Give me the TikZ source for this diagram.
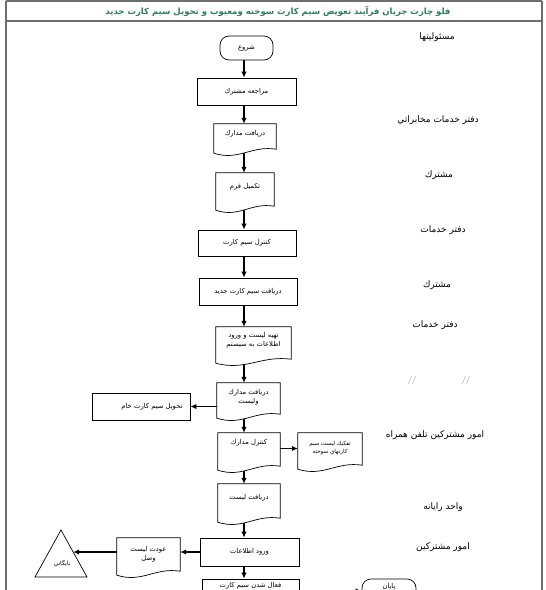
\documentclass[tikz,border=0pt]{standalone}
\usepackage{fontspec}
\TeXXeTstate=1
\newfontfamily\arabicfont[Script=Arabic]{DejaVu Sans}
\usetikzlibrary{arrows.meta,calc}
\pgfdeclarelayer{bg}
\pgfsetlayers{bg,main}
\newcommand\artxt[1]{\beginR #1\endR}
\definecolor{titlegreen}{HTML}{2E7D5A}
\definecolor{framegray}{HTML}{6E6E6E}
\tikzset{
  shapetxt/.style={font=\arabicfont\fontsize{6.8}{9}\selectfont, align=center, inner sep=0pt},
  procbox/.style={shapetxt, draw=black, fill=white, line width=0.7pt, rectangle},
  docbox/.style={shapetxt, rectangle},
  termbox/.style={shapetxt, draw=black, fill=white, line width=0.7pt, rectangle, rounded corners=9pt},
  lanelbl/.style={font=\arabicfont\fontsize{9}{11}\selectfont, inner sep=0pt},
  conn/.style={draw=black, line width=1.3pt, -{Latex[length=6pt,width=5.5pt]}},
  docline/.style={draw=black, fill=white, line width=0.7pt},
}
\newcommand\docout[1]{%
  \path[docline] (#1.north west) -- (#1.north east) -- ($(#1.south east)+(0,6)$)
    .. controls ($(#1.south west)!0.6!(#1.south east)+(0,2)$) and ($(#1.south west)!0.4!(#1.south east)+(0,18)$)
    .. ($(#1.south west)+(0,10)$) -- cycle;}
\begin{document}
\begin{tikzpicture}[x=1pt,y=-1pt]
\useasboundingbox (0,0) rectangle (546,590);
\clip (0,0) rectangle (546,590);
\coordinate (spine) at (244,0);
% frame
\draw[framegray, line width=1.4pt] (6,1) -- (542,1) (6,1) -- (6,600) (542,1) -- (542,600);
\draw[framegray, line width=1.2pt] (6,21) -- (542,21);
\node[font=\arabicfont\bfseries\fontsize{8.5}{10}\selectfont, text=titlegreen, inner sep=0pt] (title) at (278,11)
  {\artxt{فلو چارت جريان فرآيند تعويض سيم كارت سوخته ومعيوب و تحويل سيم كارت جديد}};

% lane labels
\node[lanelbl] (l0) at (437,37) {\artxt{مسئوليتها}};
\node[lanelbl] (l1) at (438,120) {\artxt{دفتر خدمات مخابراتي}};
\node[lanelbl] (l2) at (439,175) {\artxt{مشترك}};
\node[lanelbl] (l3) at (443,230) {\artxt{دفتر خدمات}};
\node[lanelbl] (l4) at (437,285) {\artxt{مشترك}};
\node[lanelbl] (l5) at (435,325) {\artxt{دفتر خدمات}};
\node[font=\sffamily\fontsize{8}{9}\selectfont, text=gray, inner sep=0pt] (l6a) at (412,380) {//};
\node[font=\sffamily\fontsize{8}{9}\selectfont, text=gray, inner sep=0pt] (l6b) at (466,380) {//};
\node[lanelbl] (l7) at (435,435) {\artxt{امور مشتركين تلفن همراه}};
\node[lanelbl] (l8) at (443,507) {\artxt{واحد رايانه}};
\node[lanelbl] (l9) at (443,547) {\artxt{امور مشتركين}};

% flow shapes
\node[termbox, minimum width=53pt, minimum height=24pt] (start) at (246.5,48) {\artxt{شروع}};
\node[procbox, minimum width=99pt, minimum height=27pt] (p1) at (246.5,91.5) {\artxt{مراجعه مشترك}};
\node[docbox, minimum width=62pt, minimum height=19pt] (d1) at (245,133.5) {};
\docout{d1} \node[shapetxt] (d1t) at (d1) {\artxt{دريافت مدارك}};
\node[docbox, minimum width=58pt, minimum height=27pt] (d2) at (245,186.5) {};
\docout{d2} \node[shapetxt] (d2t) at (d2) {\artxt{تكميل فرم}};
\node[procbox, minimum width=98pt, minimum height=26pt] (p2) at (247,243) {\artxt{كنترل سيم كارت}};
\node[procbox, minimum width=98pt, minimum height=27pt] (p3) at (248,291.5) {\artxt{دريافت سيم كارت جديد}};
\node[docbox, minimum width=75pt, minimum height=26pt] (d3) at (253.5,340) {};
\docout{d3} \node[shapetxt] (d3t) at (d3) {\artxt{تهيه ليست و ورود}\\\artxt{اطلاعات به سيستم}};
\node[docbox, minimum width=63pt, minimum height=25pt] (d4) at (248.5,395.5) {};
\docout{d4} \node[shapetxt] (d4t) at ([yshift=-2pt]d4.center) {\artxt{دريافت مدارك}\\\artxt{وليست}};
\node[procbox, minimum width=98pt, minimum height=27pt] (p4) at (141,406.5) {\hspace{22pt}\artxt{تحويل سيم كارت خام}};
\node[docbox, minimum width=62pt, minimum height=27pt] (d5) at (249,446.5) {};
\docout{d5} \node[shapetxt] (d5t) at ([yshift=4pt]d5.center) {\artxt{كنترل مدارك}};
\node[docbox, minimum width=64pt, minimum height=26pt] (d6) at (330,446) {};
\docout{d6} \node[shapetxt, font=\arabicfont\fontsize{5.6}{8}\selectfont] (d6t) at ([yshift=-2pt]d6.center) {\artxt{تفكيك ليست سيم}\\\artxt{كارتهاي سوخته}};
\node[docbox, minimum width=62pt, minimum height=28pt] (d7) at (249,498) {};
\docout{d7} \node[shapetxt] (d7t) at (d7) {\artxt{دريافت ليست}};
\node[procbox, minimum width=99pt, minimum height=28pt] (p5) at (249.5,552) {\artxt{ورود اطلاعات}};
\node[docbox, minimum width=63pt, minimum height=27pt] (d8) at (148.5,551.5) {};
\docout{d8} \node[shapetxt] (d8t) at ([yshift=-3pt]d8.center) {\artxt{عودت ليست}\\\artxt{وصل}};
\path[docline] (61,530) -- (87,577) -- (35,577) -- cycle;
\node[shapetxt, font=\arabicfont\fontsize{5.8}{7}\selectfont] (arch) at (62,564) {\artxt{بايگاني}};
\coordinate (archR) at (73.2,552);
\node[procbox, minimum width=97pt, minimum height=24pt] (p6) at (250.5,591) {};
\node[shapetxt] (p6t) at (250.5,585.5) {\artxt{فعال شدن سيم كارت}};
\node[termbox, minimum width=54pt, minimum height=24pt] (end) at (389,591) {};
\node[shapetxt] (endt) at (389,587) {\artxt{پايان}};

% connectors
\begin{pgfonlayer}{bg}
\draw[conn] (start.center -| spine) -- (p1.north -| spine);
\draw[conn] (p1.center -| spine) -- (d1.north -| spine);
\draw[conn] (d1.center -| spine) -- (d2.north -| spine);
\draw[conn] (d2.center -| spine) -- (p2.north -| spine);
\draw[conn] (p2.center -| spine) -- (p3.north -| spine);
\draw[conn] (p3.center -| spine) -- (d3.north -| spine);
\draw[conn] (d3.center -| spine) -- (d4.north -| spine);
\draw[conn] (d4.center |- p4.east) -- (p4.east);
\draw[conn] (d4.center -| spine) -- (d5.north -| spine);
\draw[conn] ([yshift=-2pt]d5.center) -- ([yshift=-2pt]d5.center -| d6.west);
\draw[conn] (d5.center -| spine) -- (d7.north -| spine);
\draw[conn] (d7.center -| spine) -- (p5.north -| spine);
\draw[conn] (p5.center) -- (d8.east |- p5.center);
\draw[conn] (d8.center |- p5.center) -- (archR);
\draw[conn] (p5.center -| spine) -- (p6.north -| spine);
\draw[conn] (p6.center) -- (end.west |- p6.center);
\end{pgfonlayer}
\end{tikzpicture}
\end{document}
